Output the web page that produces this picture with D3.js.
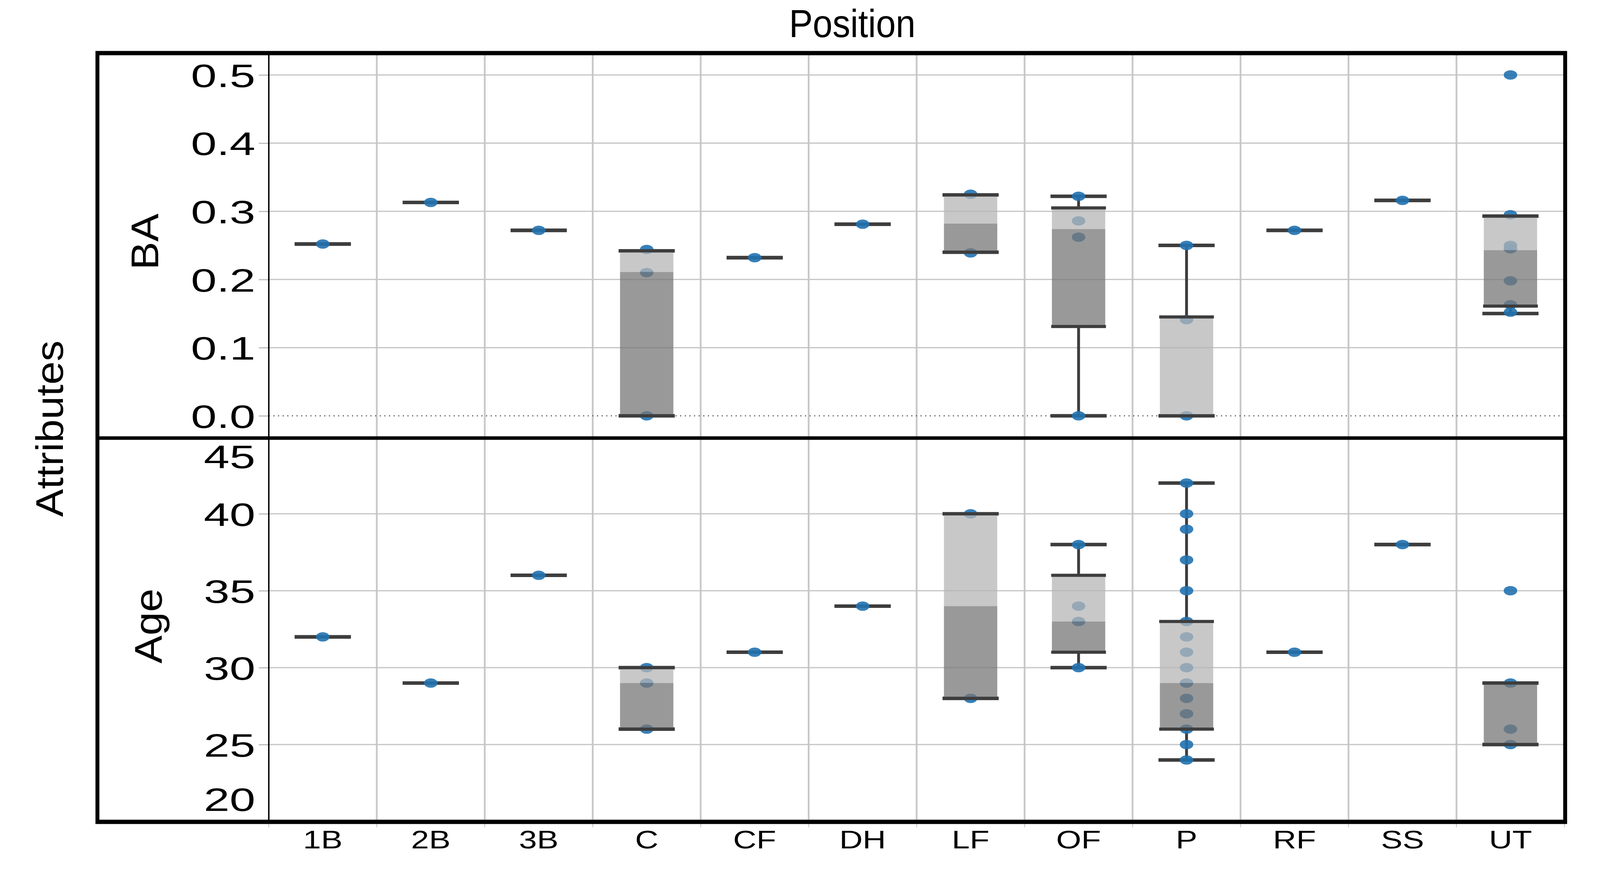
<!DOCTYPE html>
<html>
<head>
<meta charset="utf-8">
<style>
  html, body { margin: 0; padding: 0; background: #fff; overflow: hidden; }
  svg { display: block; width: 100vw; height: 100vh; font-family: "Liberation Sans", Arial, Helvetica, sans-serif; }
</style>
</head>
<body>
<svg></svg>
<script src="https://d3js.org/d3.v7.min.js"></script>
<script>
// categories and tick values
const positions = ["1B", "2B", "3B", "C", "CF", "DH", "LF", "OF", "P", "RF", "SS", "UT"];
const baTicks = [0, 0.1, 0.2, 0.3, 0.4, 0.5];
const ageTicks = [20, 25, 30, 35, 40, 45];

// BA box summaries (one value per position)
const baMin = [0.252, 0.313, 0.272, 0.000, 0.232, 0.281, 0.240, 0.000, 0.000, 0.272, 0.316, 0.150];
const baQ1  = [0.252, 0.313, 0.272, 0.000, 0.232, 0.281, 0.240, 0.131, 0.000, 0.272, 0.316, 0.161];
const baMed = [0.252, 0.313, 0.272, 0.211, 0.232, 0.281, 0.282, 0.274, 0.000, 0.272, 0.316, 0.243];
const baQ3  = [0.252, 0.313, 0.272, 0.242, 0.232, 0.281, 0.324, 0.305, 0.145, 0.272, 0.316, 0.293];
const baMax = [0.252, 0.313, 0.272, 0.242, 0.232, 0.281, 0.324, 0.322, 0.250, 0.272, 0.316, 0.293];
const baPoints = [
  [0.252], [0.313], [0.272], [0, 0.210, 0.244], [0.232], [0.281],
  [0.239, 0.325], [0, 0.262, 0.286, 0.322], [0, 0.141, 0.250], [0.272], [0.316],
  [0.152, 0.163, 0.198, 0.245, 0.250, 0.295, 0.500]
];

// Age box summaries
const ageMin = [32, 29, 36, 26, 31, 34, 28, 30, 24, 31, 38, 25];
const ageQ1  = [32, 29, 36, 26, 31, 34, 28, 31, 26, 31, 38, 25];
const ageMed = [32, 29, 36, 29, 31, 34, 34, 33, 29, 31, 38, 29];
const ageQ3  = [32, 29, 36, 30, 31, 34, 40, 36, 33, 31, 38, 29];
const ageMax = [32, 29, 36, 30, 31, 34, 40, 38, 42, 31, 38, 29];
const agePoints = [
  [32], [29], [36], [26, 29, 30], [31], [34], [28, 40], [30, 33, 34, 38],
  [24, 25, 26, 27, 28, 29, 30, 31, 32, 33, 35, 37, 39, 40, 42],
  [31], [38], [25, 26, 29, 35]
];

const width = 4500, height = 2236;
// the drawing is laid out on a 4500x2236 canvas and stretched to fill the window
const svg = d3.select("svg")
  .attr("viewBox", `0 0 ${width} ${height}`)
  .attr("preserveAspectRatio", "none");

// layout
const frame = { left: 274, right: 4402, top: 136, mid: 1122, bottom: 2105 };
const plotLeft = 756, plotRight = 4400;
const boxW = 150, capW = 158;
const tickStretch = 1.55, catStretch = 1.42;

const x = d3.scaleBand().domain(positions).range([plotLeft, plotRight]);
const yBA = d3.scaleLinear().domain([0, 0.5]).range([1065, 192]);
const yAge = d3.scaleLinear().domain([20, 45]).range([2104, 1119]);

const panels = [
  { label: "BA", y: yBA, ticks: baTicks, fmt: d3.format(".1f"), top: frame.top, bottom: frame.mid,
    min: baMin, q1: baQ1, med: baMed, q3: baQ3, max: baMax, points: baPoints, labelX: 445 },
  { label: "Age", y: yAge, ticks: ageTicks, fmt: d3.format("d"), top: frame.mid, bottom: frame.bottom,
    min: ageMin, q1: ageQ1, med: ageMed, q3: ageQ3, max: ageMax, points: agePoints, labelX: 455 }
];

// vertical grid lines at category boundaries (plus small ticks under the frame)
const bounds = d3.range(positions.length + 1).map(k => plotLeft + k * x.step());
svg.append("g").selectAll("line")
  .data(bounds.slice(1, -1))
  .join("line")
  .attr("x1", d => d).attr("x2", d => d)
  .attr("y1", frame.top).attr("y2", frame.bottom)
  .attr("stroke", "#c8c8c8").attr("stroke-width", 5);
svg.append("g").selectAll("line")
  .data(bounds)
  .join("line")
  .attr("x1", d => d).attr("x2", d => d)
  .attr("y1", frame.bottom).attr("y2", frame.bottom + 14)
  .attr("stroke", "#d0d0d0").attr("stroke-width", 3);

panels.forEach(p => {
  // horizontal grid lines inside the panel
  svg.append("g").selectAll("line")
    .data(p.ticks.filter(t => t !== 0 && p.y(t) > p.top + 20 && p.y(t) < p.bottom - 20))
    .join("line")
    .attr("x1", plotLeft).attr("x2", plotRight)
    .attr("y1", d => p.y(d)).attr("y2", d => p.y(d))
    .attr("stroke", "#c4c4c4").attr("stroke-width", 3);

  // dotted zero line (BA only)
  if (p.y.domain()[0] === 0) {
    svg.append("line")
      .attr("x1", plotLeft).attr("x2", plotRight)
      .attr("y1", p.y(0)).attr("y2", p.y(0))
      .attr("stroke", "#555").attr("stroke-width", 3)
      .attr("stroke-dasharray", "3,10");
  }

  // y axis
  const gy = svg.append("g")
    .attr("transform", `translate(${plotLeft},0)`)
    .call(d3.axisLeft(p.y).tickValues(p.ticks).tickSize(28).tickFormat(p.fmt));
  gy.select(".domain").remove();
  gy.selectAll(".tick line").attr("stroke", "#bdbdbd").attr("stroke-width", 3);
  gy.selectAll(".tick text")
    .attr("font-size", 84)
    .attr("font-family", "'Liberation Sans', Arial, sans-serif")
    .attr("fill", "#000")
    .attr("x", -38 / tickStretch)
    .attr("dy", "0.36em")
    .attr("y", d => {
      const py = p.y(d);
      if (py < p.top + 20) return 49;       // top label pushed inside the panel
      if (py > p.bottom - 20) return -58;   // bottom label pushed inside the panel
      return 0;
    })
    .attr("transform", `scale(${tickStretch},1)`);

  const rows = positions.map((pos, i) => ({
    pos, min: p.min[i], q1: p.q1[i], med: p.med[i], q3: p.q3[i], max: p.max[i], pts: p.points[i]
  }));
  const cx = d => x(d.pos) + x.bandwidth() / 2;
  const g = svg.append("g");

  // whiskers
  g.selectAll(".whisker-hi").data(rows).join("line")
    .attr("x1", cx).attr("x2", cx)
    .attr("y1", d => p.y(d.q3)).attr("y2", d => p.y(d.max))
    .attr("stroke", "#3d3d3d").attr("stroke-width", 8);
  g.selectAll(".whisker-lo").data(rows).join("line")
    .attr("x1", cx).attr("x2", cx)
    .attr("y1", d => p.y(d.q1)).attr("y2", d => p.y(d.min))
    .attr("stroke", "#3d3d3d").attr("stroke-width", 8);

  // caps
  ["min", "max"].forEach(k => {
    g.selectAll(".cap-" + k).data(rows).join("line")
      .attr("x1", d => cx(d) - capW / 2).attr("x2", d => cx(d) + capW / 2)
      .attr("y1", d => p.y(d[k])).attr("y2", d => p.y(d[k]))
      .attr("stroke", "#3d3d3d").attr("stroke-width", 9);
  });

  // points
  g.selectAll(".pt")
    .data(rows.flatMap(d => d.pts.map(v => ({ pos: d.pos, v }))))
    .join("ellipse")
    .attr("cx", cx)
    .attr("cy", d => p.y(d.v))
    .attr("rx", 19).attr("ry", 12)
    .attr("fill", "#2272b0")
    .attr("opacity", 0.9);

  // boxes: light part median..Q3, dark part Q1..median
  const boxed = rows.filter(d => d.q3 > d.q1);
  g.selectAll(".box-hi").data(boxed).join("rect")
    .attr("x", d => cx(d) - boxW / 2).attr("width", boxW)
    .attr("y", d => p.y(d.q3)).attr("height", d => p.y(d.med) - p.y(d.q3))
    .attr("fill", "#b6b6b6").attr("opacity", 0.75);
  g.selectAll(".box-lo").data(boxed).join("rect")
    .attr("x", d => cx(d) - boxW / 2).attr("width", boxW)
    .attr("y", d => p.y(d.med)).attr("height", d => p.y(d.q1) - p.y(d.med))
    .attr("fill", "#777777").attr("opacity", 0.75);
  ["q1", "q3"].forEach(k => {
    g.selectAll(".edge-" + k).data(boxed).join("line")
      .attr("x1", d => cx(d) - boxW / 2 - 2).attr("x2", d => cx(d) + boxW / 2 + 2)
      .attr("y1", d => p.y(d[k])).attr("y2", d => p.y(d[k]))
      .attr("stroke", "#3d3d3d").attr("stroke-width", 8);
  });

  // panel label
  const ly = (p.top + p.bottom) / 2 - 10;
  svg.append("text")
    .attr("transform", `translate(${p.labelX},${ly}) rotate(-90)`)
    .attr("text-anchor", "middle")
    .attr("font-size", 108)
    .attr("fill", "#000")
    .text(p.label);
});

// x axis labels
const gx = svg.append("g")
  .attr("transform", `translate(0,${frame.bottom - 1})`)
  .call(d3.axisBottom(x).tickSize(0).tickPadding(24));
gx.select(".domain").remove();
gx.selectAll(".tick text")
  .attr("font-size", 64)
  .attr("font-family", "'Liberation Sans', Arial, sans-serif")
  .attr("fill", "#000")
  .attr("transform", `scale(${catStretch},1)`);

// y axis line
svg.append("line")
  .attr("x1", plotLeft).attr("x2", plotLeft)
  .attr("y1", frame.top).attr("y2", frame.bottom)
  .attr("stroke", "#000").attr("stroke-width", 4);

// frame and panel divider
svg.append("rect")
  .attr("x", frame.left).attr("y", frame.top)
  .attr("width", frame.right - frame.left).attr("height", frame.bottom - frame.top)
  .attr("fill", "none").attr("stroke", "#000").attr("stroke-width", 11);
svg.append("line")
  .attr("x1", frame.left).attr("x2", frame.right)
  .attr("y1", frame.mid).attr("y2", frame.mid)
  .attr("stroke", "#000").attr("stroke-width", 9);

// titles
svg.append("text")
  .attr("x", 2397).attr("y", 95)
  .attr("text-anchor", "middle")
  .attr("font-size", 100)
  .attr("fill", "#000")
  .text("Position");
svg.append("text")
  .attr("transform", "translate(177,1098) rotate(-90)")
  .attr("text-anchor", "middle")
  .attr("font-size", 107)
  .attr("fill", "#000")
  .text("Attributes");
</script>
</body>
</html>
